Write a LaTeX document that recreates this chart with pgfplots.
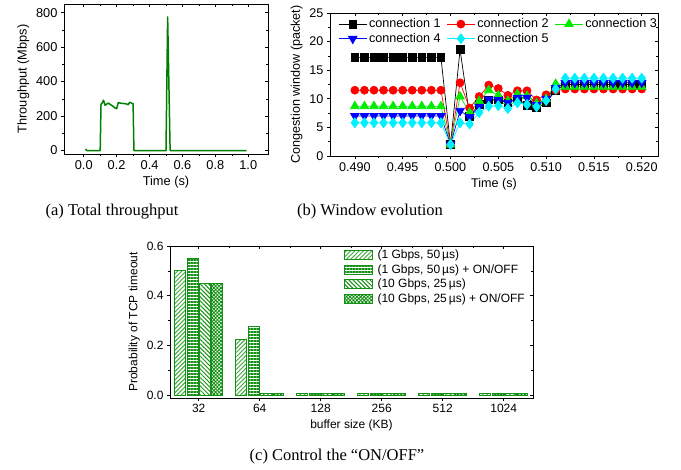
\documentclass[border=0pt]{standalone}
\usepackage{fontspec}
\setmainfont{Liberation Serif}
\newfontfamily\arial{Liberation Sans}
\usepackage{pgfplots}
\pgfplotsset{compat=1.18}
\usetikzlibrary{patterns.meta}
\definecolor{dgreen}{RGB}{0,128,0}
\definecolor{bgreen}{RGB}{20,145,20}
\definecolor{pgreen}{RGB}{60,170,60}
\definecolor{cthree}{RGB}{0,235,0}
\definecolor{cfive}{RGB}{0,240,255}
\pgfplotsset{
  panel/.style={scale only axis, axis line style={line width=0.8pt},
    every tick/.style={black, line width=0.6pt}, major tick length=3pt, minor tick length=2pt,
    tick align=outside, tick pos=left, /pgf/number format/assume math mode=true,
    ticklabel style={font=\arial\fontsize{#1}{#1}\selectfont},
    label style={font=\arial\fontsize{#1}{#1}\selectfont}},
  mirror/.style={scale only axis, axis line style={line width=0.8pt},
    every tick/.style={black, line width=0.6pt}, major tick length=3pt, minor tick length=2pt,
    tick align=inside, tick pos=right, xticklabels={}, yticklabels={}},
  geoA/.style={at={(64pt,316pt)}, anchor=south west, width=204pt, height=150pt,
    xmin=-0.12, xmax=1.12, ymin=-20, ymax=850, xtick={0,0.2,0.4,0.6,0.8,1}, ytick={0,200,400,600,800},
    minor x tick num=1, minor y tick num=1},
  geoB/.style={at={(330pt,314pt)}, anchor=south west, width=328pt, height=143pt,
    xmin=0.4874, xmax=0.5217, ymin=0, ymax=25, xtick={0.49,0.495,0.5,0.505,0.51,0.515,0.52},
    ytick={0,5,10,15,20,25}, minor x tick num=1, minor y tick num=1},
  geoC/.style={at={(170pt,72pt)}, anchor=south west, width=363pt, height=152pt,
    xmin=-0.47, xmax=5.48, ymin=-0.012, ymax=0.6, xtick={0,1,2,3,4,5},
    ytick={0,0.2,0.4,0.6}, minor y tick num=1},
  mybar/.style={draw=bgreen, line width=0.8pt,
    legend image code/.code={\draw[##1] (0pt,-4.5pt) rectangle (28pt,4.5pt);}},
}
\pgfplotstableread{
x c1 c2 c3 c4 c5
0.490 17.2 11.5 8.7 7.0 5.8
0.491 17.2 11.5 8.7 7.0 5.8
0.492 17.2 11.5 8.7 7.0 5.8
0.493 17.2 11.5 8.7 7.0 5.8
0.494 17.2 11.5 8.7 7.0 5.8
0.495 17.2 11.5 8.7 7.0 5.8
0.496 17.2 11.5 8.7 7.0 5.8
0.497 17.2 11.5 8.7 7.0 5.8
0.498 17.2 11.5 8.7 7.0 5.8
0.499 17.2 11.5 8.7 7.0 5.8
0.500 2.0 2.0 2.0 2.0 2.0
0.501 18.6 12.8 10.4 7.9 5.8
0.502 7.0 8.4 7.6 6.8 5.6
0.503 9.0 10.4 9.6 8.6 7.6
0.504 9.8 12.4 11.5 9.9 8.7
0.505 9.8 11.8 10.6 9.8 8.8
0.506 9.3 10.6 9.6 9.3 8.3
0.507 10.0 11.4 10.8 10.2 9.3
0.508 8.9 11.4 10.5 10.2 9.0
0.509 8.4 9.8 9.2 8.9 8.6
0.510 9.3 10.7 10.0 10.0 9.7
0.511 11.5 11.5 12.6 11.9 11.7
0.512 12.5 11.7 12.1 12.8 13.6
0.513 12.5 11.7 12.1 12.8 13.6
0.514 12.5 11.7 12.1 12.8 13.6
0.515 12.5 11.7 12.1 12.8 13.6
0.516 12.5 11.7 12.1 12.8 13.6
0.517 12.5 11.7 12.1 12.8 13.6
0.518 12.5 11.7 12.1 12.8 13.6
0.519 12.5 11.7 12.1 12.8 13.6
0.520 12.5 11.7 12.1 12.8 13.6
}\cwin
\begin{document}
\begin{tikzpicture}
\path[use as bounding box] (0pt,0pt) rectangle (681pt,470pt);
% ---------- (a)
\begin{axis}[panel=12.8, geoA,
  x tick label style={/pgf/number format/fixed, /pgf/number format/fixed zerofill, /pgf/number format/precision=1},
  xlabel={Time (s)}, ylabel={Throughput (Mbps)}]
\addplot[dgreen, line width=1.5pt, line join=round] coordinates {
(0.01,8) (0.02,0) (0.05,0) (0.10,0) (0.105,270) (0.11,272) (0.12,292) (0.13,262) (0.14,270)
(0.15,275) (0.16,268) (0.17,262) (0.18,255) (0.19,247) (0.20,243) (0.21,278) (0.22,276)
(0.23,273) (0.24,273) (0.25,272) (0.26,270) (0.27,266) (0.28,280) (0.29,275) (0.30,272)
(0.305,0) (0.40,0) (0.50,0) (0.51,775) (0.525,0) (0.60,0) (0.80,0) (0.99,0)};
\end{axis}
\begin{axis}[mirror, geoA]
\end{axis}
% ---------- (b)
\begin{axis}[panel=12.6, geoB, scaled x ticks=false,
  x tick label style={/pgf/number format/fixed, /pgf/number format/fixed zerofill, /pgf/number format/precision=3},
  xlabel={Time (s)}, ylabel={Congestion window (packet)},
  legend columns=3, legend cell align=left,
  legend style={at={(0.025,0.975)}, anchor=north west, draw=none, fill=none, inner sep=0pt,
    font=\arial\fontsize{12.6}{14}\selectfont, row sep=0pt,
    /tikz/every even column/.append style={column sep=4pt}},
  legend image code/.code={\draw[mark repeat=2,mark phase=2] plot coordinates {(0pt,0pt) (14pt,0pt) (28pt,0pt)};}]
\addplot[black, line width=0.7pt, mark=square*, mark size=3.9pt] table[x=x,y=c1] {\cwin};
\addlegendentry{connection 1}
\addplot[red, line width=0.7pt, mark=*, mark size=4pt] table[x=x,y=c2] {\cwin};
\addlegendentry{connection 2}
\addplot[cthree, line width=0.7pt, mark=triangle*, mark size=5pt] table[x=x,y=c3] {\cwin};
\addlegendentry{connection 3}
\addplot[blue, line width=0.7pt, mark=triangle*, mark size=5pt, mark options={rotate=180}] table[x=x,y=c4] {\cwin};
\addlegendentry{connection 4}
\addplot[cfive, line width=0.7pt, mark=diamond*, mark size=5pt] table[x=x,y=c5] {\cwin};
\addlegendentry{connection 5}
\end{axis}
\begin{axis}[mirror, geoB]
\end{axis}
% ---------- (c)
\begin{axis}[panel=12, geoC, ybar=1.3pt, bar width=11pt,
  xticklabels={32,64,128,256,512,1024},
  y tick label style={/pgf/number format/fixed, /pgf/number format/fixed zerofill, /pgf/number format/precision=1},
  xlabel={buffer size (KB)}, ylabel={Probability of TCP timeout},
  legend cell align=left,
  legend style={at={(0.478,0.99)}, anchor=north west, draw=none, fill=none, inner sep=0pt,
    font=\arial\fontsize{12}{13}\selectfont, row sep=0.5pt,
    /tikz/every odd column/.append style={column sep=3pt}}]
\addplot[mybar, pattern={Lines[angle=45,distance=3pt,line width=1pt]}, pattern color=pgreen]
  coordinates {(0,0.50) (1,0.225) (2,0.008) (3,0.008) (4,0.008) (5,0.008)};
\addlegendentry{(1 Gbps, 50\,µs)}
\addplot[mybar, pattern={Lines[angle=0,distance=3pt,line width=1.1pt]}, pattern color=bgreen]
  coordinates {(0,0.55) (1,0.275) (2,0.008) (3,0.008) (4,0.008) (5,0.008)};
\addlegendentry{(1 Gbps, 50\,µs) + ON/OFF}
\addplot[mybar, pattern={Lines[angle=-45,distance=3pt,line width=1pt]}, pattern color=bgreen]
  coordinates {(0,0.45) (1,0.008) (2,0.008) (3,0.008) (4,0.008) (5,0.008)};
\addlegendentry{(10 Gbps, 25\,µs)}
\addplot[mybar, pattern={Hatch[angle=45,distance=2.5pt,line width=0.9pt]}, pattern color=bgreen]
  coordinates {(0,0.45) (1,0.008) (2,0.008) (3,0.008) (4,0.008) (5,0.008)};
\addlegendentry{(10 Gbps, 25\,µs) + ON/OFF}
\end{axis}
\begin{axis}[mirror, geoC, minor x tick num=1]
\end{axis}
% ---------- captions
\node[font=\fontsize{16.5}{19}\selectfont] at (112pt,258pt) {(a) Total throughput};
\node[font=\fontsize{16.5}{19}\selectfont] at (370pt,258pt) {(b) Window evolution};
\node[font=\fontsize{16.5}{19}\selectfont] at (337pt,13pt) {(c) Control the “ON/OFF”};
\end{tikzpicture}
\end{document}
